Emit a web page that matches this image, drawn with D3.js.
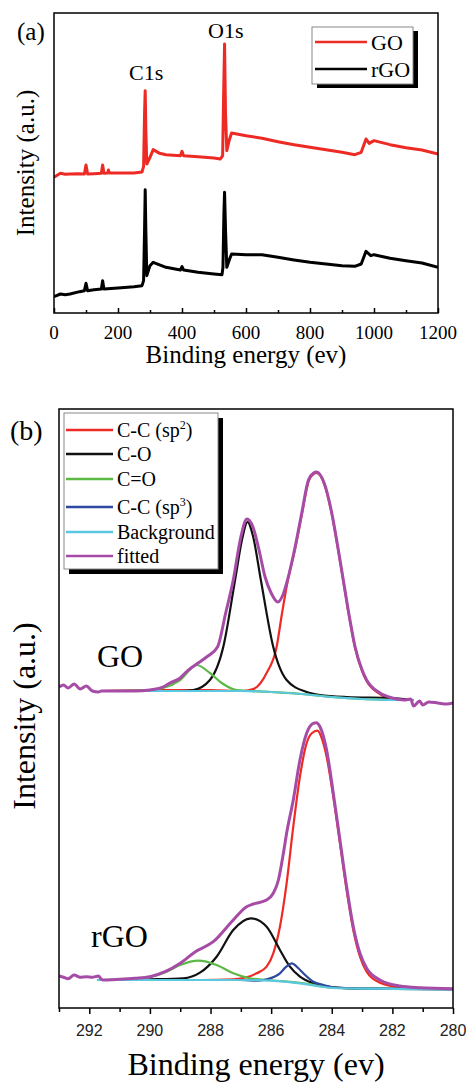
<!DOCTYPE html>
<html><head><meta charset="utf-8">
<script src="https://cdn.jsdelivr.net/npm/d3@7/dist/d3.min.js"></script>
<style>body{margin:0;background:#fff}svg{display:block}</style></head>
<body>
<script>
// ---------- Panel (a): survey spectra [binding energy, intensity a.u.] ----------
const surveyTicks = [0,200,400,600,800,1000,1200];
const surveyGO = [[0,407],[10,413],[20,419],[35,416],[50,417],[75,418],[95,417],[100,444],[105,417],[125,418],[148,419],[152,444],[156,419],[168,420],[170,429],[173,420],[200,420],[250,420],[275,423],[280,440],[283,600],[285,667],[287,550],[290,447],[300,467],[310,490],[330,479],[350,475],[395,472],[400,485],[405,472],[450,469],[500,465],[520,462],[527,472],[530,650],[533,807],[536,600],[540,487],[548,520],[555,540],[600,532],[650,524],[700,514],[750,505],[800,497],[850,490],[900,482],[940,475],[960,482],[975,522],[985,509],[1000,517],[1050,505],[1100,496],[1150,489],[1200,477]];
const surveyRGO = [[0,49],[10,53],[20,57],[35,55],[50,57],[80,64],[95,67],[100,89],[105,67],[125,70],[148,72],[152,97],[156,72],[200,75],[250,79],[275,82],[280,97],[283,250],[285,370],[287,250],[290,112],[300,142],[310,152],[350,137],[395,129],[400,139],[405,129],[450,122],[500,117],[525,115],[528,137],[531,300],[533,362],[536,250],[540,137],[548,160],[555,177],[600,175],[650,175],[700,167],[750,159],[800,152],[850,147],[900,142],[940,140],[960,147],[975,185],[990,172],[1000,175],[1050,164],[1100,157],[1150,150],[1200,137]];
const surveyLegend = ["GO","rGO"];

// ---------- Panel (b): C1s fits [binding energy, intensity a.u.] ----------
const c1sTicks = [292,290,288,286,284,282,280];
const goFit = [[293.0,321],[292.85,323],[292.7,320],[292.5,324],[292.3,319],[292.1,322],[291.9,317],[291.7,316],[291.6,317],[291.0,317],[290.5,317],[290.0,318],[289.5,322],[289.34,325],[289.0,330],[288.84,335],[288.6,341],[288.46,344],[288.13,351],[287.77,361],[287.5,395],[287.25,428],[287.0,471],[286.8,489],[286.6,481],[286.4,458],[286.2,431],[286.0,415],[285.78,406],[285.6,414],[285.46,428],[285.21,461],[284.99,495],[284.77,528],[284.6,535],[284.5,536],[284.25,525],[284.0,495],[283.8,461],[283.62,428],[283.4,388],[283.23,361],[283.0,338],[282.85,328],[282.41,315],[282.0,310],[281.6,308],[281.4,309],[281.3,302],[281.1,307],[281.0,303],[280.8,306],[280.5,305],[280.2,304],[280.0,305]];
const goSp2 = [[291.6,317],[290,318],[289,318],[288,318],[287,317],[286.59,319],[286.15,335],[285.82,361],[285.64,395],[285.46,426],[285.21,459],[284.99,493],[284.77,526],[284.6,534],[284.5,535],[284.25,524],[284,494],[283.8,460],[283.62,427],[283.4,387],[283.23,360],[283,337],[282.85,327],[282.41,314],[282,309],[281.3,308]];
const goCO = [[291.6,317],[289,317],[288.57,318],[288.02,328],[287.58,361],[287.19,428],[286.95,470],[286.78,486],[286.6,472],[286.34,428],[285.93,361],[285.49,328],[284.83,316],[284.39,313],[283.5,311],[282,310],[281.3,308]];
const goCeqO = [[291.6,317],[290,318],[289.56,320],[289,328],[288.46,343],[288.02,335],[287.63,325],[287.14,318],[286,316],[285,314],[284,311],[283,309],[281.3,308]];
const goBg = [[291.65,317],[290,317],[288,317],[287,317],[286,316],[285,314],[284,311],[283,309],[282,308],[281.3,308]];

const rgoFit = [[293.0,32],[292.85,30.7],[292.7,29.3],[292.5,33],[292.3,30.7],[292.1,31.3],[291.9,30.7],[291.7,32],[291.6,28.7],[291.5,28],[291.0,28.7],[290.5,29.7],[290.0,31.3],[289.5,36.3],[289.0,44.7],[288.5,56.3],[287.91,66.3],[287.25,88],[286.81,101.3],[286.59,104],[286.15,108],[285.93,114.7],[285.76,128],[285.6,154],[285.49,174.7],[285.27,208],[285.05,248],[284.83,274.7],[284.61,284.7],[284.51,285.3],[284.39,281.3],[284.17,258],[283.95,214.7],[283.73,168],[283.51,121.3],[283.29,81.3],[283.07,54.7],[282.85,39.7],[282.41,28],[281.75,22],[281.09,20.3],[280.0,19.3]];
const rgoSp2 = [[291.6,28],[288.35,28],[287.25,28.7],[286.81,30.7],[286.48,34.7],[286.15,41.3],[285.93,54.7],[285.71,81.3],[285.49,124.7],[285.27,181.3],[285.05,231.3],[284.83,264.7],[284.66,274.7],[284.47,277.3],[284.33,269.7],[284.17,251.3],[283.95,211.3],[283.73,164.7],[283.51,118],[283.29,78],[283.07,51.3],[282.85,36.3],[282.41,25.3],[281.75,20.7],[281.09,19.3],[280,19]];
const rgoCO = [[291.6,28],[290.0,28.7],[288.9,29.7],[288.35,35.3],[287.8,51.3],[287.25,78],[286.67,89.7],[286.15,81.3],[285.71,58],[285.38,41.3],[285.05,31.3],[284.61,24.7],[283.95,20.7],[282.85,19.3],[280,19]];
const rgoCeqO = [[291.6,28],[290.55,28.7],[290.0,30.7],[289.45,36.3],[289.0,43],[288.4,47.3],[287.8,43],[287.25,34.7],[286.7,29.7],[286.15,28],[285,25],[284,20.5],[283,19.3],[280,18.7]];
const rgoSp3 = [[291.6,28],[289,28],[287,28],[286.4,27.3],[286.15,28.7],[285.71,34.7],[285.5,41.3],[285.32,44.7],[285.1,39.7],[284.94,34.7],[284.61,26.3],[284.28,23],[283.9,20.5],[282.85,19.3],[280,18.7]];
const rgoBg = [[291.75,28],[289,28],[287.25,28],[286,27.3],[285.05,24.7],[284.5,22],[283.95,20],[282.85,19.3],[280,18.7]];

const c1sLegend = ["C-C (sp|2|)","C-O","C=O","C-C (sp|3|)","Background","fitted"];
const c1sColors = ["#ee2a24","#111111","#5cb946","#2e4a9e","#5ac8de","#a64ca6"];

// ---------- Drawing ----------
const SERIF = "'Liberation Serif','Times New Roman',serif";
const SANS = "'Liberation Sans',Arial,sans-serif";
const svg = d3.select("body").append("svg").attr("width",468).attr("height",1082);

// Panel (a)
const xA = d3.scaleLinear([0,1200],[54,438]);
const yA = d3.scaleLinear([0,900],[313,13]);
const gA = svg.append("g");
gA.append("defs").append("clipPath").attr("id","clipA").append("rect")
  .attr("x",xA(0)).attr("y",yA(900)).attr("width",xA(1200)-xA(0)).attr("height",yA(0)-yA(900));
const lineA = d3.line().x(d=>xA(d[0])).y(d=>yA(d[1]));
gA.append("path").datum(surveyGO).attr("d",lineA).attr("fill","none").attr("stroke","#ee2a24").attr("stroke-width",3).attr("stroke-linejoin","round").attr("clip-path","url(#clipA)");
gA.append("path").datum(surveyRGO).attr("d",lineA).attr("fill","none").attr("stroke","#000").attr("stroke-width",3).attr("stroke-linejoin","round").attr("clip-path","url(#clipA)");
gA.append("rect").attr("x",xA(0)).attr("y",yA(900)).attr("width",xA(1200)-xA(0)).attr("height",yA(0)-yA(900))
  .attr("fill","none").attr("stroke","#000").attr("stroke-width",1.5);
const axA = d3.axisBottom(xA).tickValues(d3.range(0,1201,100)).tickSize(-5).tickFormat("");
const axAg = gA.append("g").attr("transform",`translate(0,${yA(0)})`).call(axA);
axAg.select(".domain").remove();
axAg.selectAll(".tick line").attr("stroke","#000").attr("stroke-width",1.5)
  .attr("y2",d=>d%200===0?-5:-3);
gA.selectAll(".tlA").data(surveyTicks).join("text").attr("x",d=>xA(d)).attr("y",339)
  .attr("text-anchor","middle").attr("font-family",SERIF).attr("font-size",19).text(d=>d);
gA.append("text").attr("x",(xA(0)+xA(1200))/2).attr("y",363).attr("text-anchor","middle")
  .attr("font-family",SERIF).attr("font-size",25).text("Binding energy (ev)");
gA.append("text").attr("transform","translate(34,163) rotate(-90)").attr("text-anchor","middle")
  .attr("font-family",SERIF).attr("font-size",25).text("Intensity (a.u.)");
gA.append("text").attr("x",17).attr("y",40).attr("font-family",SERIF).attr("font-size",25).text("(a)");
gA.append("text").attr("x",129).attr("y",80).attr("font-family",SERIF).attr("font-size",22).text("C1s");
gA.append("text").attr("x",208).attr("y",38).attr("font-family",SERIF).attr("font-size",22).text("O1s");
gA.append("rect").attr("x",317).attr("y",31).attr("width",101).attr("height",57).attr("fill","#000");
gA.append("rect").attr("x",312).attr("y",27).attr("width",101).attr("height",57).attr("fill","#fff").attr("stroke","#888").attr("stroke-width",1);
const legA = gA.selectAll(".legA").data(surveyLegend).join("g").attr("transform",(d,i)=>`translate(0,${42+i*27})`);
legA.append("line").attr("x1",315).attr("x2",367).attr("y1",0).attr("y2",0)
  .attr("stroke",(d,i)=>i===0?"#ee2a24":"#000").attr("stroke-width",2.5);
legA.append("text").attr("x",371).attr("y",7.5).attr("font-family",SERIF).attr("font-size",22).text(d=>d);

// Panel (b)
const xB = d3.scaleLinear([293,280],[59,453]);
const yB = d3.scaleLinear([0,599],[1008,409]);
const gB = svg.append("g");
gB.append("defs").append("clipPath").attr("id","clipB").append("rect")
  .attr("x",xB(293)).attr("y",yB(599)).attr("width",xB(280)-xB(293)).attr("height",yB(0)-yB(599));
const lineB = d3.line().x(d=>xB(d[0])).y(d=>yB(d[1])).curve(d3.curveMonotoneX);
const comps = [
  [goSp2,0],[goCO,1],[goCeqO,2],[goBg,4],
  [rgoSp2,0],[rgoCO,1],[rgoCeqO,2],[rgoSp3,3],[rgoBg,4]
];
comps.forEach(([data,ci])=>{
  gB.append("path").datum(data).attr("d",lineB).attr("fill","none")
    .attr("stroke",c1sColors[ci]).attr("stroke-width",2.2).attr("clip-path","url(#clipB)");
});
[goFit,rgoFit].forEach(data=>{
  gB.append("path").datum(data).attr("d",lineB).attr("fill","none")
    .attr("stroke",c1sColors[5]).attr("stroke-width",3).attr("stroke-linejoin","round").attr("clip-path","url(#clipB)");
});
gB.append("rect").attr("x",xB(293)).attr("y",yB(599)).attr("width",xB(280)-xB(293)).attr("height",yB(0)-yB(599))
  .attr("fill","none").attr("stroke","#000").attr("stroke-width",1.5);
const axB = d3.axisBottom(xB).tickValues(d3.range(280,294,1)).tickSize(6).tickFormat("");
const axBg = gB.append("g").attr("transform",`translate(0,${yB(0)})`).call(axB);
axBg.select(".domain").remove();
axBg.selectAll(".tick line").attr("stroke","#000").attr("stroke-width",1.5).attr("y2",d=>d%2===0?6:4);
gB.selectAll(".tlB").data(c1sTicks).join("text").attr("x",d=>xB(d)).attr("y",1036)
  .attr("text-anchor","middle").attr("font-family",SANS).attr("font-size",16).attr("fill","#222").text(d=>d);
gB.append("text").attr("x",(xB(293)+xB(280))/2).attr("y",1075).attr("text-anchor","middle")
  .attr("font-family",SERIF).attr("font-size",32).text("Binding energy (ev)");
gB.append("text").attr("transform","translate(35,716) rotate(-90)").attr("text-anchor","middle")
  .attr("font-family",SERIF).attr("font-size",32).text("Intensity (a.u.)");
gB.append("text").attr("x",10).attr("y",440).attr("font-family",SERIF).attr("font-size",28).text("(b)");
gB.append("text").attr("x",97).attr("y",667).attr("font-family",SERIF).attr("font-size",32).text("GO");
gB.append("text").attr("x",91).attr("y",947).attr("font-family",SERIF).attr("font-size",32).text("rGO");
gB.append("rect").attr("x",69).attr("y",418).attr("width",154).attr("height",156).attr("fill","#000");
gB.append("rect").attr("x",64).attr("y",413).attr("width",154).attr("height",156).attr("fill","#fff").attr("stroke","#888").attr("stroke-width",1);
const rowsY = [430,454,479,507,532,556];
const legB = gB.selectAll(".legB").data(c1sLegend).join("g").attr("transform",(d,i)=>`translate(0,${rowsY[i]})`);
legB.append("line").attr("x1",66).attr("x2",113).attr("y1",0).attr("y2",0)
  .attr("stroke",(d,i)=>c1sColors[i]).attr("stroke-width",2.5);
legB.each(function(d){
  const t = d3.select(this).append("text").attr("x",117).attr("y",7).attr("font-family",SERIF).attr("font-size",20);
  const parts = d.split("|");
  if(parts.length===1){ t.text(d); }
  else {
    t.append("tspan").text(parts[0]);
    t.append("tspan").attr("dy",-8).attr("font-size",12).text(parts[1]);
    t.append("tspan").attr("dy",8).text(parts[2]);
  }
});
</script>
</body></html>
